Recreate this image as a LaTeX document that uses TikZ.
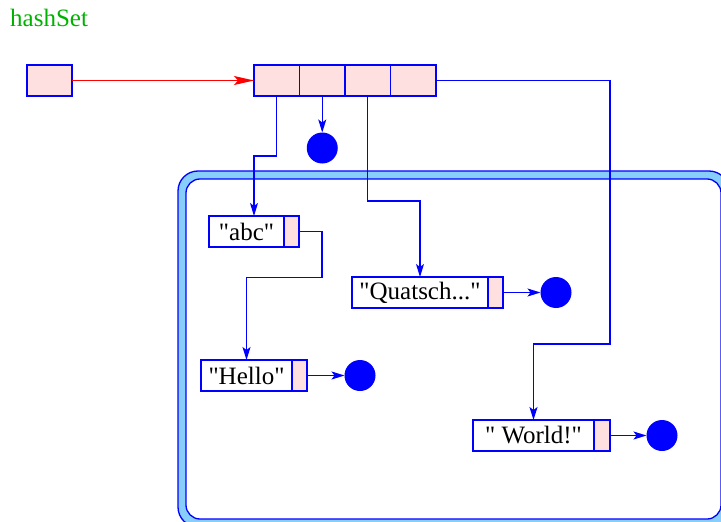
\documentclass[tikz,border=0pt]{standalone}
\usepackage{fontspec}
\setmainfont{Liberation Serif}[Ligatures=TeXOff]
\usepackage{xcolor}
\usetikzlibrary{positioning,arrows.meta}
\definecolor{cellpink}{RGB}{255,224,224}
\definecolor{framefill}{RGB}{135,206,250}
\definecolor{labelgreen}{RGB}{0,178,0}

\begin{document}
\begin{tikzpicture}[x=1pt,y=-1pt,
 slot/.style={draw=blue,fill=cellpink,minimum width=45.5pt,minimum height=31pt,inner sep=0pt,outer sep=0pt,line width=1.3pt},
 strbox/.style={slot,fill=white}, nextslot/.style={slot,minimum width=15pt},
 nilnode/.style={circle,fill=blue,minimum size=31pt,inner sep=0pt,outer sep=0pt},
 ptr/.style={draw=blue,line width=1.3pt,-{Stealth[length=13pt,width=8pt,inset=3pt]}},
 font=\fontsize{25}{30}\selectfont]
\clip (0,0) rectangle (721,522);
% the set with its buckets
\node[text=labelgreen,anchor=base west,inner sep=0pt] (title) at (10,27) {hashSet};
\node[slot,minimum width=45pt,anchor=north west] (head) at (27,65) {};
\node[slot,anchor=north west] (c1) at (254,65) {};
\node[slot,right=0pt of c1] (c2) {}; \node[slot,right=0pt of c2] (c3) {};
\node[slot,right=0pt of c3] (c4) {};
\draw[blue,line width=1.3pt,fill=framefill,rounded corners=20pt] (178,171) rectangle (729,527);
\draw[blue,line width=1.3pt,fill=white,rounded corners=14pt] (186,179) rectangle (721,519);
% string entries
\node[strbox,minimum width=75pt,anchor=north west] (abc) at (209,216) {"abc"};
\node[nextslot,right=0pt of abc] (abcn) {};
\node[strbox,minimum width=136pt,anchor=north west] (qua) at (352,277) {"Quatsch..."};
\node[nextslot,right=0pt of qua] (quan) {};
\node[strbox,minimum width=91pt,anchor=north west] (hel) at (201,360) {"Hello"};
\node[nextslot,right=0pt of hel] (heln) {};
\node[strbox,minimum width=121pt,anchor=north west] (wor) at (473,420) {" World!"};
\node[nextslot,minimum width=16pt,right=0pt of wor] (worn) {};
\node[nilnode,below=36.5pt of c2] (nil0) {};
\node[nilnode,right=37.5pt of quan] (nil1) {};
\node[nilnode,right=37.5pt of heln] (nil2) {};
\node[nilnode,right=36.5pt of worn] (nil3) {};
\coordinate (bend) at (610,344);
\draw[red,line width=1.3pt,-{Stealth[length=20pt,width=9pt,inset=4pt]}] (head.east) -- (c1.west);
\draw[ptr] (c1.south) -- ++(0,60) -| ([xshift=7.5pt]abc.north);
\draw[ptr] (c2.south) -- (nil0);
\draw[ptr] (c3.south) -- ++(0,105) -| (qua.north);
\draw[ptr] (c4.east) -| (bend) -| (wor.north);
\draw[ptr] (abcn.east) -| ++(23,46) -| (hel.north);
\draw[ptr] (quan.east) -- (nil1); \draw[ptr] (heln.east) -- (nil2);
\draw[ptr] (worn.east) -- (nil3);
\end{tikzpicture}
\end{document}
